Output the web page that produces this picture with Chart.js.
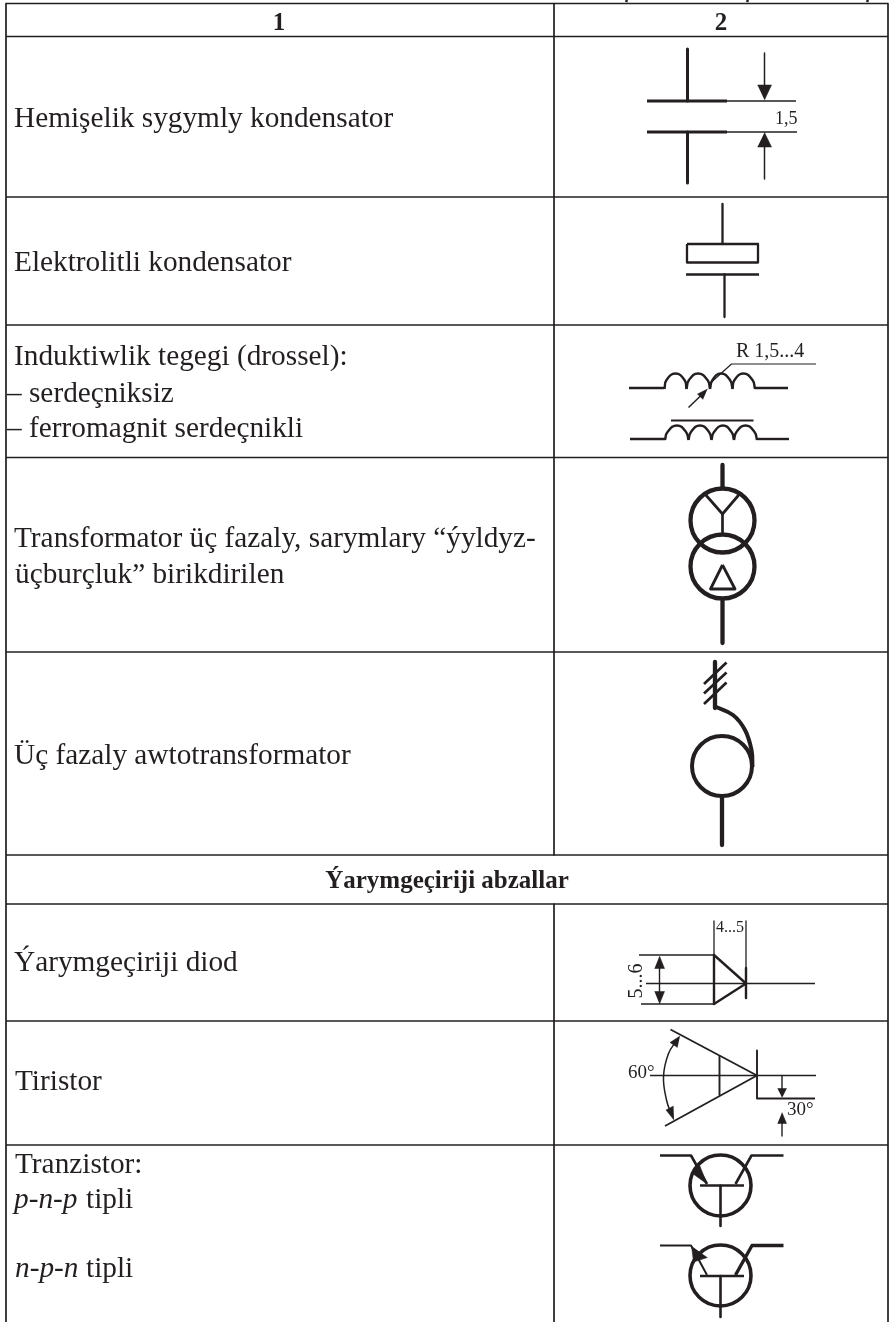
<!DOCTYPE html>
<html>
<head>
<meta charset="utf-8">
<title>Shertli belgiler</title>
<script src="https://cdn.jsdelivr.net/npm/chart.js@4/dist/chart.umd.min.js"></script>
<style>
html, body { margin: 0; padding: 0; background: #fff; }
canvas { display: block; }
</style>
</head>
<body>
<canvas id="tableChart" width="889" height="1322"></canvas>
<script>
// Tablisanyn yazgylary
const bodyText = ['Hemişelik sygymly kondensator', 'Elektrolitli kondensator', 'Induktiwlik tegegi (drossel):',
    '– serdeçniksiz', '– ferromagnit serdeçnikli', 'Transformator üç fazaly, sarymlary “ýyldyz-',
    'üçburçluk” birikdirilen', 'Üç fazaly awtotransformator', 'Ýarymgeçiriji diod', 'Tiristor', 'Tranzistor:', 'tipli', 'tipli'];
const bodyTextX = [14, 14, 14, 7, 7, 14, 15, 14, 14, 15, 15, 86, 86];
const bodyTextY = [127, 271, 365, 402, 437, 547, 583, 764, 971, 1090, 1173, 1208, 1277];
const italicText = ['p-n-p', 'n-p-n'];
const italicTextX = [14, 15];
const italicTextY = [1208, 1277];
const boldText = ['1', '2', 'Ýarymgeçiriji abzallar'];
const boldTextX = [279, 721, 447];
const boldTextY = [30, 30, 888];
const capDimText = ['1,5'];
const capDimX = [775];
const capDimY = [124];
const coilDimText = ['R 1,5...4'];
const coilDimX = [736];
const coilDimY = [357];
const diodeDimText = ['4...5'];
const diodeDimX = [716];
const diodeDimY = [932];
const angleText = ['60°', '30°'];
const angleX = [628, 787];
const angleY = [1078, 1115];
const rotatedText = ['5...6'];
const rotatedTextX = [642];
const rotatedTextY = [981];

// Tablisanyn cyzyklary
const rowRules = [3.5, 36.5, 197, 325, 457.5, 652, 855, 904, 1021, 1145];
const leftRule = 6;
const rightRule = 888;
const columnRules = [[554, 3.5], [554, 855]];
const columnRulesLow = [[554, 904], [554, 1322]];
const clippedMarks = [[[627, 0], [626, 2]], [[748, 0], [747, 2]], [[868, 0], [867, 2]]];

// Hemiselik kondensator
const capStems = [[[687.5, 49], [687.5, 101]], [[687.5, 132], [687.5, 183]]];
const capPlates = [[[647, 101], [727, 101]], [[647, 132], [727, 132]]];
const capExtensions = [[[727, 101], [796, 101]], [[727, 132], [797, 132]]];
const capArrowShafts = [[[764.5, 53], [764.5, 88]], [[764.5, 146], [764.5, 179]]];
const capArrowHeads = [[[757.5, 85], [771.5, 85], [764.5, 100]], [[757.5, 147], [771.5, 147], [764.5, 132.5]]];

// Elektrolitli kondensator
const elecLines = [[[722.5, 204], [722.5, 244]], [[686, 274.5], [759, 274.5]], [[724.5, 274.5], [724.5, 317]]];
const elecBox = [[687, 244], [758, 244], [758, 262.5], [687, 262.5], [687, 244]];

// Drossel
const coilLeads = [[[629, 388], [664, 388]], [[755, 388], [788, 388]], [[630, 439], [665, 439]], [[757, 439], [789, 439]]];
const coilHumpsTop = [
    [[664.5, 389], [666.5, 380], [675.5, 373.5], [684.5, 380], [686.5, 389]],
    [[686.5, 389], [689, 380], [698, 373.5], [707.5, 380], [710, 389]],
    [[710, 389], [712.5, 380], [721, 373.5], [730, 380], [732.5, 389]],
    [[732.5, 389], [734.5, 380], [743.5, 373.5], [752.5, 380], [755, 389]]
];
const coilHumpsLow = [
    [[665, 440], [667.5, 432], [677, 425.5], [686, 432], [688.5, 440]],
    [[688.5, 440], [691, 432], [700, 425.5], [709, 432], [711.5, 440]],
    [[711.5, 440], [714, 432], [723, 425.5], [731.5, 432], [734, 440]],
    [[734, 440], [736.5, 432], [745.5, 425.5], [754.5, 432], [757, 440]]
];
const coilCore = [[671, 420.5], [753.5, 420.5]];
const coilLeader = [[816, 364], [731.5, 364], [711.5, 382]];
const coilArrowShaft = [[688.5, 407.5], [702, 394.5]];
const coilArrowHead = [[707.5, 389], [697.5, 394], [703, 399.5]];

// Transformator
const trafoLeads = [[[722.5, 465], [722.5, 487]], [[722.5, 601], [722.5, 643]]];
const trafoCircles = [[722.5, 520.5], [722.5, 566.5]];
const trafoStar = [[[704.5, 493.5], [722.5, 514], [740, 493.5]], [[722.5, 514], [722.5, 532]]];
const trafoDelta = [[722.5, 565], [710.5, 589], [735, 589], [722.5, 565]];

// Awtotransformator
const autoStem = [[715, 662], [715, 708]];
const autoSlashes = [[[726.5, 662.5], [704, 684]], [[726.5, 672.5], [704, 693.5]], [[726.5, 682.5], [704, 704]]];
const autoCurve = [[715, 706.5], [733, 715], [745, 730], [751.5, 750], [752.5, 767]];
const autoCircle = [[722, 766]];
const autoLead = [[722, 797], [722, 845]];

// Diod
const diodeGuides = [[[714, 921], [714, 1004]], [[746, 921], [746, 968]]];
const diodeBars = [[[714, 955], [714, 1004]], [[746, 968], [746, 998]]];
const diodeTriangle = [[714, 955], [746, 983.5], [714, 1004]];
const diodeAxis = [[646, 983.5], [815, 983.5]];
const diodeDimLines = [[[639, 955], [714, 955]], [[641, 1004], [714, 1004]], [[659.5, 965], [659.5, 995]]];
const diodeHeads = [[[654.5, 968.5], [664.5, 968.5], [659.5, 956]], [[654.5, 991.5], [664.5, 991.5], [659.5, 1004]]];

// Tiristor
const thySlants = [[[670.5, 1029.5], [757, 1075.5]], [[665, 1126], [757, 1075.5]]];
const thyBars = [[[719.5, 1056], [719.5, 1095]], [[757, 1050.5], [757, 1098.5], [815, 1098.5]]];
const thyAxis = [[650, 1075.5], [816, 1075.5]];
const thyArc = [[677, 1040], [668.5, 1053.5], [663.5, 1076.5], [666.5, 1100], [672, 1116]];
const thyArcHeads = [[[680, 1036], [670, 1042.5], [677.5, 1047.5]], [[674, 1120], [666, 1110], [673.5, 1106]]];
const thyDimShafts = [[[782, 1075.5], [782, 1090]], [[782, 1122], [782, 1136]]];
const thyDimHeads = [[[777.5, 1088.5], [786.5, 1088.5], [782, 1097.5]], [[777.5, 1123.5], [786.5, 1123.5], [782, 1112.5]]];

// Tranzistorlar
const pnpCircle = [[720.5, 1185.5]];
const npnCircle = [[720.5, 1275.5]];
const pnpLeads = [[[660, 1155.5], [691, 1155.5], [707, 1184]], [[783.5, 1155.5], [751.5, 1155.5], [735.5, 1184]]];
const npnLeftLead = [[660, 1245.5], [691, 1245.5], [707, 1275]];
const npnRightLead = [[783.5, 1245.5], [752, 1245.5], [735.5, 1275]];
const transistorBars = [[[700, 1185.5], [744, 1185.5]], [[700, 1276], [744, 1276]]];
const transistorStems = [[[720.5, 1185.5], [720.5, 1226]], [[720.5, 1276], [720.5, 1317]]];
const pnpHead = [[699.5, 1165], [707, 1184], [692.5, 1173.5]];
const npnHead = [[691.5, 1246], [693.5, 1262], [707.5, 1257.5]];

const ink = '#231f20';
const toXY = (pts) => pts.map((p) => ({ x: p[0], y: p[1] }));

const datasets = [];
function stroke(pts, width, tension) {
    datasets.push({
        data: toXY(pts), showLine: true, borderColor: ink, borderWidth: width,
        pointRadius: 0, tension: tension || 0, borderJoinStyle: 'round'
    });
}
function strokes(list, width, tension) {
    list.forEach((pts) => stroke(pts, width, tension));
}
function solid(list) {
    list.forEach((pts) => datasets.push({
        data: toXY(pts), showLine: true, fill: 'shape', backgroundColor: ink,
        borderColor: ink, borderWidth: 0.5, pointRadius: 0
    }));
}
function rings(centers, radius, width) {
    datasets.push({
        data: toXY(centers), showLine: false, pointRadius: radius, pointBorderWidth: width,
        pointBorderColor: ink, pointBackgroundColor: 'transparent'
    });
}

rowRules.forEach((y) => stroke([[leftRule, y], [rightRule, y]], 1.7));
stroke([[leftRule, 3.5], [leftRule, 1322]], 1.7);
stroke([[rightRule, 3.5], [rightRule, 1322]], 1.7);
stroke(columnRules, 1.7);
stroke(columnRulesLow, 1.7);
strokes(clippedMarks, 2.5);

strokes(capStems, 3);
strokes(capPlates, 3);
strokes(capExtensions, 1.5);
strokes(capArrowShafts, 1.5);
solid(capArrowHeads);

strokes(elecLines, 2.3);
stroke(elecBox, 2.3);

strokes(coilLeads, 2.4);
strokes(coilHumpsTop, 2.4, 0.5);
strokes(coilHumpsLow, 2.4, 0.5);
stroke(coilCore, 2);
stroke(coilLeader, 1.2);
stroke(coilArrowShaft, 1.5);
solid([coilArrowHead]);

strokes(trafoLeads, 4.3);
rings(trafoCircles, 32, 4.3);
strokes(trafoStar, 2.7);
stroke(trafoDelta, 2.8);

stroke(autoStem, 4.3);
strokes(autoSlashes, 2.7);
stroke(autoCurve, 4, 0.4);
rings(autoCircle, 30, 4);
stroke(autoLead, 4.3);

strokes(diodeGuides, 1.3);
strokes(diodeBars, 2.4);
stroke(diodeTriangle, 2.4);
stroke(diodeAxis, 1.6);
strokes(diodeDimLines, 1.4);
solid(diodeHeads);

strokes(thySlants, 1.8);
strokes(thyBars, 1.9);
stroke(thyAxis, 1.4);
stroke(thyArc, 1.5, 0.4);
solid(thyArcHeads);
strokes(thyDimShafts, 1.4);
solid(thyDimHeads);

rings(pnpCircle, 30.5, 3.6);
rings(npnCircle, 30.5, 3.6);
strokes(pnpLeads, 2.6);
stroke(npnLeftLead, 2);
stroke(npnRightLead, 3.4);
strokes(transistorBars, 2.6);
strokes(transistorStems, 2.6);
solid([pnpHead, npnHead]);

// Yazgylar kanwasa shkalalar arkaly cekilyar
const tableText = {
    id: 'tableText',
    afterDatasetsDraw(chart) {
        const { ctx, scales } = chart;
        const put = (texts, xs, ys, font, align) => {
            ctx.font = font;
            ctx.textAlign = align;
            texts.forEach((t, i) => ctx.fillText(t, scales.x.getPixelForValue(xs[i]), scales.y.getPixelForValue(ys[i])));
        };
        ctx.save();
        ctx.fillStyle = ink;
        ctx.textBaseline = 'alphabetic';
        put(bodyText, bodyTextX, bodyTextY, '29.3px "Liberation Serif"', 'left');
        put(italicText, italicTextX, italicTextY, 'italic 29.3px "Liberation Serif"', 'left');
        put(boldText, boldTextX, boldTextY, 'bold 25px "Liberation Serif"', 'center');
        put(capDimText, capDimX, capDimY, '18px "Liberation Serif"', 'left');
        put(coilDimText, coilDimX, coilDimY, '20px "Liberation Serif"', 'left');
        put(diodeDimText, diodeDimX, diodeDimY, '16px "Liberation Serif"', 'left');
        put(angleText, angleX, angleY, '19px "Liberation Serif"', 'left');
        ctx.translate(scales.x.getPixelForValue(rotatedTextX[0]), scales.y.getPixelForValue(rotatedTextY[0]));
        ctx.rotate(-Math.PI / 2);
        ctx.font = '20px "Liberation Serif"';
        ctx.textAlign = 'center';
        ctx.fillText(rotatedText[0], 0, 0);
        ctx.restore();
    }
};

new Chart(document.getElementById('tableChart').getContext('2d'), {
    type: 'scatter',
    data: { datasets },
    plugins: [tableText],
    options: {
        responsive: false,
        animation: false,
        events: [],
        layout: { padding: 0, autoPadding: false },
        plugins: { legend: { display: false }, tooltip: { enabled: false } },
        scales: {
            x: { type: 'linear', display: false, min: 0, max: 889 },
            y: { type: 'linear', display: false, min: 0, max: 1322, reverse: true }
        }
    }
});
</script>
</body>
</html>
